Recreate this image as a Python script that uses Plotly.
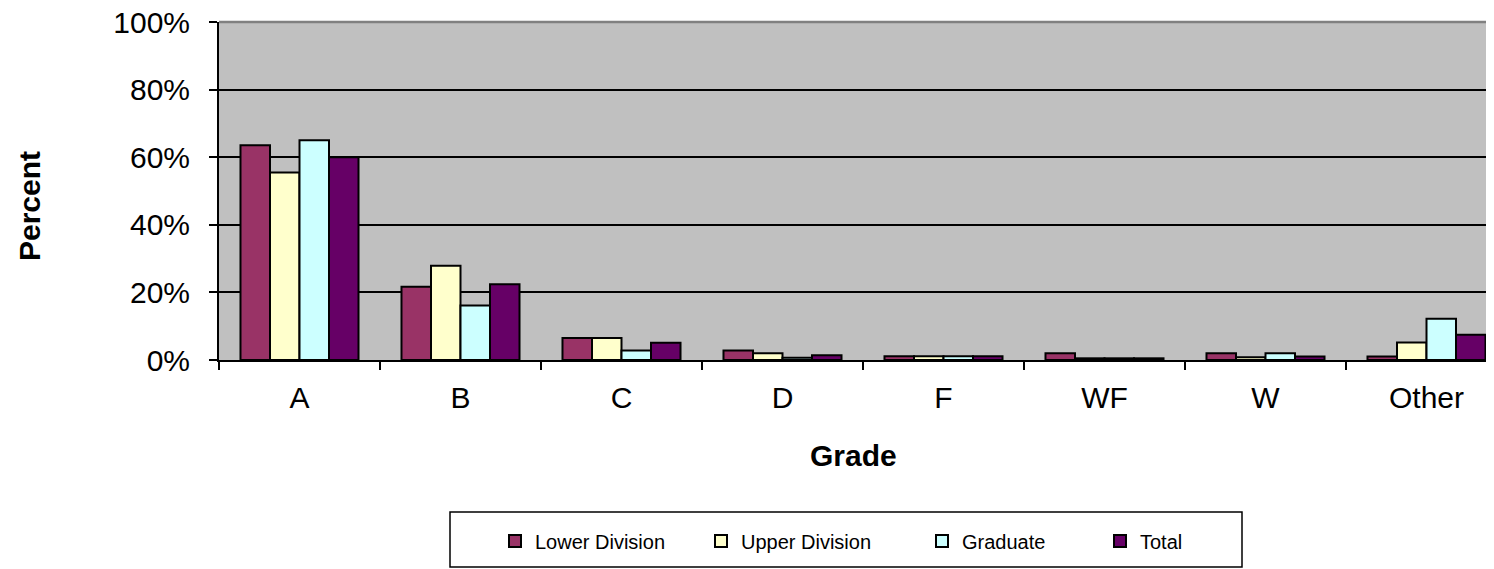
import plotly.graph_objects as go

categories = ["A", "B", "C", "D", "F", "WF", "W", "Other"]
lower_division = [63.5, 21.7, 6.5, 2.8, 1.1, 2.0, 2.0, 1.0]
upper_division = [55.5, 27.9, 6.5, 2.0, 1.1, 0.5, 0.8, 5.2]
graduate = [65.0, 16.1, 2.8, 0.7, 1.1, 0.5, 2.0, 12.2]
total = [60.0, 22.4, 5.1, 1.4, 1.1, 0.5, 1.0, 7.5]

series_names = ["Lower Division", "Upper Division", "Graduate", "Total"]
series_values = [lower_division, upper_division, graduate, total]
series_colors = ["#993366", "#FFFFCC", "#CCFFFF", "#660066"]
legend_ids = ["legend", "legend2", "legend3", "legend4"]

y_ticks = [0, 20, 40, 60, 80, 100]
y_tick_labels = [f"{v}%" for v in y_ticks]

OFF = 8  # page body margin
W, H = 1494 - OFF, 569 - OFF
L, R, T, B = 219 - OFF, 0, 22 - OFF, 209
pw, ph = W - L - R, H - T - B

def px_x(px):
    return (px - OFF - L) / pw

def px_y(py):
    return (H - B - (py - OFF)) / ph

fig = go.Figure()
for name, vals, col, lg in zip(series_names, series_values, series_colors, legend_ids):
    fig.add_trace(go.Bar(
        x=categories, y=vals, name=name,
        marker=dict(color=col, line=dict(color="black", width=2)),
        legend=lg,
    ))

FONT = "Liberation Sans, Arial, sans-serif"
legend_text_starts = [535, 741, 962, 1140]
legend_common = dict(orientation="h", bgcolor="rgba(0,0,0,0)", borderwidth=0,
                     font=dict(family=FONT, size=20, color="black"),
                     yanchor="middle", xanchor="left", itemwidth=30)
legends = {}
for lg, ts in zip(legend_ids, legend_text_starts):
    legends[lg] = dict(x=px_x(ts - 40), y=px_y(541), **legend_common)

fig.update_layout(
    width=W, height=H,
    margin=dict(l=L, r=R, t=T, b=B, pad=0, autoexpand=False),
    paper_bgcolor="white",
    plot_bgcolor="#C0C0C0",
    barmode="group", bargap=0.267, bargroupgap=0,
    font=dict(family=FONT, color="black"),
    showlegend=True,
    **legends,
)

fig.update_xaxes(
    type="category", range=[-0.5, -0.5 + pw / 161.0],
    showline=True, linecolor="black", linewidth=2,
    ticks="outside", tickson="boundaries", ticklen=8, tickwidth=2, tickcolor="black",
    tickfont=dict(family=FONT, size=30, color="black"),
    ticklabelstandoff=10, ticklabeloverflow="allow", automargin=False,
    showgrid=False, zeroline=False,
)
fig.update_yaxes(
    range=[0, 100], tickvals=y_ticks, ticktext=y_tick_labels,
    showline=True, linecolor="black", linewidth=2,
    ticks="outside", ticklen=8, tickwidth=2, tickcolor="black",
    tickfont=dict(family=FONT, size=30, color="black"),
    ticklabelstandoff=13, ticklabeloverflow="allow", automargin=False,
    showgrid=True, gridcolor="black", gridwidth=2, zeroline=False,
)

# top border of plot area
fig.add_shape(type="line", xref="paper", yref="paper", x0=0, x1=1, y0=1, y1=1,
              line=dict(color="#808080", width=2.5), layer="above")
# legend box
fig.add_shape(type="rect", xref="paper", yref="paper",
              x0=px_x(450), x1=px_x(1242), y0=px_y(567), y1=px_y(512),
              line=dict(color="black", width=1.5), fillcolor="white", layer="below")

fig.add_annotation(text="<b>Grade</b>", xref="paper", yref="paper",
                   x=px_x(853), y=px_y(455), showarrow=False,
                   xanchor="center", yanchor="middle",
                   font=dict(family=FONT, size=30, color="black"))
fig.add_annotation(text="<b>Percent</b>", xref="paper", yref="paper",
                   x=px_x(29), y=px_y(206), showarrow=False, textangle=-90,
                   xanchor="center", yanchor="middle",
                   font=dict(family=FONT, size=30, color="black"))

fig.write_html("out.html")
